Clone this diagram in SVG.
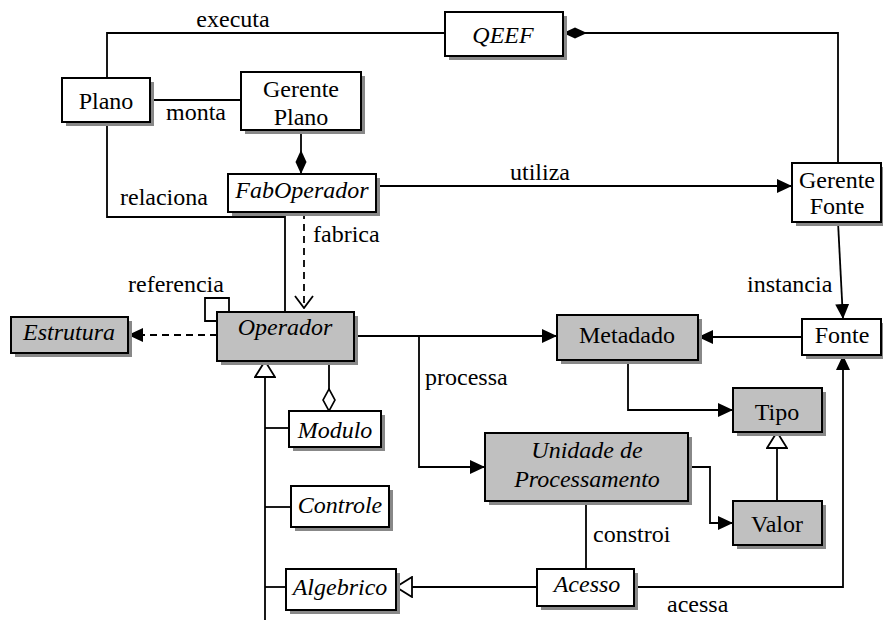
<svg xmlns="http://www.w3.org/2000/svg" width="883" height="620" viewBox="0 0 883 620">
<style>
.sh{fill:#888888;stroke:none}
.box{fill:#ffffff;stroke:#000;stroke-width:2}
.gbox{fill:#c0c0c0;stroke:#000;stroke-width:2}
text{font-family:"Times New Roman",Times,"Liberation Serif",Tinos,"Noto Serif","DejaVu Serif",FreeSerif,serif;font-size:24px;fill:#000}
.n{text-anchor:middle}
.i{font-style:italic}
.c{fill:none;stroke:#000;stroke-width:1.8}
.d{stroke-dasharray:7 5}
</style>
<defs>
<marker id="arr" markerUnits="userSpaceOnUse" viewBox="0 0 15 14" refX="15" refY="7" markerWidth="15" markerHeight="14" orient="auto"><path d="M0,0 L15,7 L0,14 z" fill="#000"/></marker>
<marker id="open" markerUnits="userSpaceOnUse" viewBox="0 0 14 20" refX="13" refY="10" markerWidth="14" markerHeight="20" orient="auto"><path d="M1,1 L13,10 L1,19" fill="none" stroke="#000" stroke-width="1.8"/></marker>
<marker id="tri" markerUnits="userSpaceOnUse" viewBox="-1 -1 18 22" refX="16" refY="10" markerWidth="18" markerHeight="22" orient="auto"><path d="M0,0 L16,10 L0,20 z" fill="#fff" stroke="#000" stroke-width="1.8"/></marker>
<marker id="fdia" markerUnits="userSpaceOnUse" viewBox="0 0 24 12" refX="24" refY="6" markerWidth="24" markerHeight="12" orient="auto"><path d="M0,6 L12,0.5 L24,6 L12,11.5 z" fill="#000"/></marker>
<marker id="hdia" markerUnits="userSpaceOnUse" viewBox="-1 -1 24 14" refX="22" refY="6" markerWidth="24" markerHeight="14" orient="auto"><path d="M0,6 L11,0 L22,6 L11,12 z" fill="#fff" stroke="#000" stroke-width="1.6"/></marker>
</defs>
<g id="connectors">
<polyline class="c" points="107,78 107,33 445,33"/>
<line class="c" x1="150" y1="100" x2="241" y2="100"/>
<polyline class="c" points="107,122 107,217 285,217 285,312"/>
<line class="c" x1="301" y1="130" x2="301" y2="174" marker-end="url(#fdia)"/>
<polyline class="c" points="838,163 838,33 563,33" marker-end="url(#fdia)"/>
<line class="c" x1="376" y1="186" x2="792" y2="186" marker-end="url(#arr)"/>
<line class="c" x1="838" y1="222" x2="843" y2="319" marker-end="url(#arr)"/>
<line class="c d" x1="304" y1="212" x2="304" y2="308" marker-end="url(#open)"/>
<line class="c d" x1="217" y1="335" x2="128" y2="335" marker-end="url(#arr)"/>
<polyline class="c" points="217,321 205,321 205,298 229,298 229,312"/>
<line class="c" x1="354" y1="336" x2="557" y2="336" marker-end="url(#arr)"/>
<polyline class="c" points="419,336 419,467 485,467" marker-end="url(#arr)"/>
<line class="c" x1="802" y1="337" x2="698" y2="337" marker-end="url(#arr)"/>
<polyline class="c" points="628,360 628,410 733,410" marker-end="url(#arr)"/>
<polyline class="c" points="688,467 710,467 710,523 733,523" marker-end="url(#arr)"/>
<line class="c" x1="777" y1="501" x2="777" y2="432" marker-end="url(#tri)"/>
<polyline class="c" points="634,587 843,587 843,355" marker-end="url(#arr)"/>
<line class="c" x1="537" y1="587" x2="396" y2="587" marker-end="url(#tri)"/>
<line class="c" x1="586" y1="501" x2="586" y2="569"/>
<line class="c" x1="265" y1="620" x2="265" y2="361" marker-end="url(#tri)"/>
<line class="c" x1="265" y1="428" x2="289" y2="428"/>
<line class="c" x1="265" y1="507" x2="291" y2="507"/>
<line class="c" x1="265" y1="587" x2="286" y2="587"/>
<line class="c" x1="329" y1="361" x2="329" y2="411" marker-end="url(#hdia)"/>
</g>
<g id="labels">
<text class="n" x="233" y="27">executa</text>
<text x="166" y="120">monta</text>
<text x="120" y="205">relaciona</text>
<text x="510" y="180">utiliza</text>
<text x="313" y="242">fabrica</text>
<text x="128" y="292">referencia</text>
<text x="747" y="292">instancia</text>
<text x="425" y="385">processa</text>
<text x="593" y="542">constroi</text>
<text x="667" y="612">acessa</text>
</g>
<g id="plano"><rect class="sh" x="66" y="82" width="88" height="44"/><rect class="box" x="62" y="78" width="88" height="44"/><text class="n" x="106" y="109">Plano</text></g>
<g id="gerente-plano"><rect class="sh" x="245" y="76" width="120" height="58"/><rect class="box" x="241" y="72" width="120" height="58"/><text class="n" x="301" y="97">Gerente</text><text class="n" x="301" y="125">Plano</text></g>
<g id="qeef"><rect class="sh" x="449" y="16" width="118" height="44"/><rect class="box" x="445" y="12" width="118" height="44"/><text class="n i" x="503" y="43">QEEF</text></g>
<g id="faboperador"><rect class="sh" x="232" y="178" width="148" height="38"/><rect class="box" x="228" y="174" width="148" height="38"/><text class="n i" x="302" y="198">FabOperador</text></g>
<g id="gerente-fonte"><rect class="sh" x="796" y="167" width="88" height="59"/><rect class="box" x="792" y="163" width="89" height="59"/><text class="n" x="837" y="188">Gerente</text><text class="n" x="837" y="214">Fonte</text></g>
<g id="operador"><rect class="sh" x="221" y="316" width="137" height="49"/><rect class="gbox" x="217" y="312" width="137" height="49"/><text class="n i" x="285" y="335">Operador</text></g>
<g id="estrutura"><rect class="sh" x="15" y="321" width="117" height="36"/><rect class="gbox" x="11" y="317" width="117" height="36"/><text class="n i" x="69" y="340">Estrutura</text></g>
<g id="metadado"><rect class="sh" x="561" y="319" width="141" height="45"/><rect class="gbox" x="557" y="315" width="141" height="45"/><text class="n" x="627" y="343">Metadado</text></g>
<g id="fonte"><rect class="sh" x="806" y="323" width="78" height="36"/><rect class="box" x="802" y="319" width="79" height="36"/><text class="n" x="842" y="343">Fonte</text></g>
<g id="tipo"><rect class="sh" x="737" y="392" width="89" height="44"/><rect class="gbox" x="733" y="388" width="89" height="44"/><text class="n" x="777" y="420">Tipo</text></g>
<g id="unidade"><rect class="sh" x="489" y="437" width="203" height="68"/><rect class="gbox" x="485" y="433" width="203" height="68"/><text class="n i" x="587" y="458">Unidade de</text><text class="n i" x="587" y="487">Processamento</text></g>
<g id="valor"><rect class="sh" x="737" y="505" width="89" height="44"/><rect class="gbox" x="733" y="501" width="89" height="44"/><text class="n" x="777" y="532">Valor</text></g>
<g id="modulo"><rect class="sh" x="293" y="415" width="92" height="36"/><rect class="box" x="289" y="411" width="92" height="36"/><text class="n i" x="335" y="438">Modulo</text></g>
<g id="controle"><rect class="sh" x="295" y="490" width="98" height="41"/><rect class="box" x="291" y="486" width="98" height="41"/><text class="n i" x="340" y="513">Controle</text></g>
<g id="algebrico"><rect class="sh" x="290" y="573" width="110" height="41"/><rect class="box" x="286" y="569" width="110" height="41"/><text class="n i" x="340" y="595">Algebrico</text></g>
<g id="acesso"><rect class="sh" x="541" y="573" width="97" height="37"/><rect class="box" x="537" y="569" width="97" height="37"/><text class="n i" x="587" y="592">Acesso</text></g>
</svg>
